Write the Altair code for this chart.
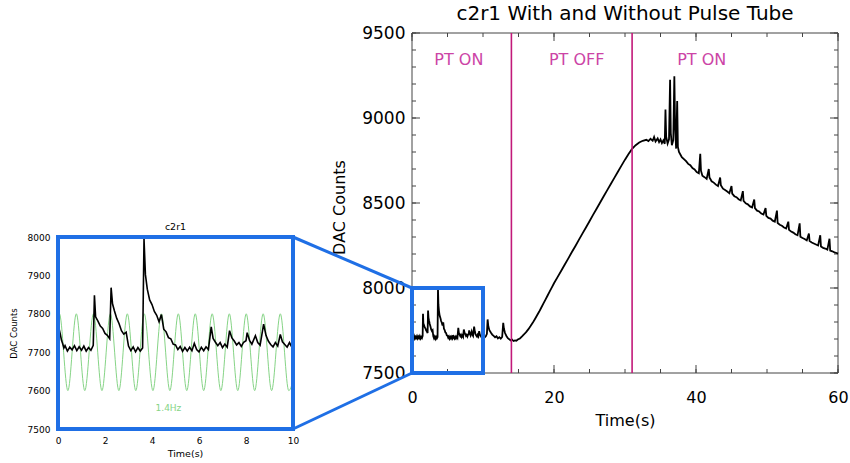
import altair as alt
import pandas as pd

# ---------------- data ----------------
# c2r1 trace, first 10 s (shown in the inset and in the main panel)
inset_t = [0.00, 0.05, 0.10, 0.15, 0.20, 0.25, 0.30, 0.40, 0.50, 0.60,
           0.70, 0.80, 0.90, 1.00, 1.10, 1.20, 1.30, 1.40, 1.50, 1.55,
           1.60, 1.70, 1.80, 1.90, 2.00, 2.10, 2.20, 2.26, 2.32, 2.40,
           2.50, 2.60, 2.70, 2.80, 2.90, 3.00, 3.10, 3.20, 3.30, 3.40,
           3.50, 3.60, 3.66, 3.72, 3.80, 3.90, 4.00, 4.10, 4.20, 4.30,
           4.40, 4.50, 4.60, 4.70, 4.80, 4.90, 5.00, 5.10, 5.20, 5.30,
           5.40, 5.50, 5.60, 5.70, 5.80, 5.90, 6.00, 6.10, 6.20, 6.30,
           6.40, 6.52, 6.60, 6.70, 6.80, 6.90, 7.00, 7.10, 7.20, 7.30,
           7.40, 7.50, 7.60, 7.70, 7.80, 7.90, 8.00, 8.05, 8.15, 8.25,
           8.40, 8.50, 8.60, 8.75, 8.85, 8.95, 9.05, 9.15, 9.25, 9.35,
           9.46, 9.55, 9.65, 9.75, 9.85, 9.95, 10.00]
inset_v = [7778, 7760, 7746, 7731, 7722, 7711, 7717, 7703, 7713, 7706,
           7717, 7704, 7714, 7705, 7716, 7703, 7712, 7705, 7718, 7848,
           7792, 7781, 7768, 7762, 7749, 7744, 7735, 7868, 7826, 7808,
           7788, 7774, 7756, 7747, 7752, 7716, 7704, 7714, 7701, 7712,
           7703, 7711, 7995, 7902, 7864, 7836, 7824, 7806, 7796, 7779,
           7798, 7760, 7753, 7738, 7735, 7721, 7719, 7707, 7715, 7702,
           7712, 7703, 7713, 7704, 7723, 7707, 7701, 7713, 7704, 7714,
           7707, 7766, 7736, 7726, 7717, 7725, 7712, 7721, 7713, 7756,
           7737, 7729, 7719, 7725, 7715, 7726, 7730, 7751, 7731, 7721,
           7743, 7725, 7718, 7773, 7744, 7729, 7720, 7714, 7725, 7716,
           7746, 7727, 7720, 7713, 7725, 7713, 7718]

# c2r1 trace after 10 s (main panel only)
tail_t = [10.2, 10.4, 10.55, 10.65, 10.75, 10.9, 11.1, 11.3, 11.5, 11.7,
          11.9, 12.1, 12.3, 12.5, 12.7, 12.85, 12.95, 13.1, 13.3, 13.5,
          13.7, 13.9, 14.1, 14.3, 14.5, 14.7, 14.9, 15.2, 15.5, 15.8,
          16.1, 16.4, 16.7, 17.0, 17.3, 17.6, 17.9, 18.2, 18.5, 18.8,
          19.1, 19.4, 19.7, 20.0, 20.5, 21.0, 21.5, 22.0, 22.5, 23.0,
          23.5, 24.0, 24.5, 25.0, 25.5, 26.0, 26.5, 27.0, 27.5, 28.0,
          28.5, 29.0, 29.5, 30.0, 30.5, 31.0, 31.5, 32.0, 32.5, 33.0,
          33.3, 33.6, 33.9, 34.1, 34.3, 34.6, 34.8, 35.0, 35.2, 35.4,
          35.6, 35.7, 35.8, 36.0, 36.2, 36.35, 36.45, 36.6, 36.8, 36.95,
          37.05, 37.2, 37.35, 37.45, 37.6, 37.8, 38.0, 38.3, 38.6, 38.9,
          39.2, 39.5, 39.8, 40.1, 40.4, 40.6, 40.7, 40.9, 41.2, 41.5,
          41.8, 41.9, 42.2, 42.5, 42.8, 43.1, 43.4, 43.5, 43.8, 44.1,
          44.4, 44.7, 45.0, 45.1, 45.4, 45.7, 46.0, 46.3, 46.6, 46.7,
          47.0, 47.3, 47.6, 47.9, 48.2, 48.3, 48.6, 48.9, 49.2, 49.5,
          49.8, 49.9, 50.2, 50.5, 50.8, 51.1, 51.4, 51.5, 51.8, 52.1,
          52.4, 52.7, 53.0, 53.1, 53.4, 53.7, 54.0, 54.3, 54.6, 54.7,
          55.0, 55.3, 55.6, 55.9, 56.0, 56.3, 56.6, 56.9, 57.2, 57.5,
          57.6, 57.9, 58.2, 58.5, 58.8, 58.9, 59.2, 59.5, 59.8, 60.0]
tail_v = [7708, 7716, 7730, 7815, 7775, 7752, 7738, 7726, 7718, 7710,
          7716, 7704, 7711, 7702, 7712, 7795, 7760, 7735, 7718, 7705,
          7698, 7692, 7696, 7688, 7692, 7690, 7697, 7703, 7715, 7728,
          7742, 7758, 7776, 7795, 7816, 7838, 7860, 7884, 7908, 7932,
          7956, 7980, 8004, 8028, 8064, 8100, 8137, 8173, 8210, 8246,
          8283, 8320, 8356, 8393, 8430, 8466, 8503, 8540, 8576, 8612,
          8648, 8684, 8720, 8755, 8788, 8818, 8840, 8856, 8866, 8872,
          8864, 8878, 8866, 8888, 8862, 8880, 8858, 8874, 8852, 8868,
          8848, 9050, 8890, 8850, 8875, 9225, 8910, 8840, 8870, 9245,
          8960, 8820, 9100, 8830, 8800, 8785, 8770, 8758, 8746, 8730,
          8722, 8705, 8698, 8682, 8675, 8790, 8690, 8660, 8652, 8642,
          8700, 8650, 8628, 8620, 8608, 8600, 8650, 8605, 8584, 8576,
          8568, 8558, 8600, 8555, 8540, 8534, 8522, 8515, 8570, 8512,
          8498, 8492, 8480, 8474, 8520, 8470, 8455, 8450, 8438, 8432,
          8470, 8425, 8412, 8408, 8396, 8390, 8455, 8382, 8372, 8366,
          8356, 8350, 8390, 8342, 8332, 8326, 8316, 8310, 8380, 8302,
          8294, 8288, 8280, 8320, 8276, 8268, 8262, 8256, 8250, 8310,
          8244, 8236, 8232, 8226, 8290, 8220, 8216, 8210, 8206, 8202]

# 1.4 Hz pulse-tube reference (green), extrema
wave_t = [0.00, 0.06, 0.42, 0.78, 1.14, 1.51, 1.87, 2.23, 2.59, 2.95,
          3.31, 3.67, 4.04, 4.40, 4.76, 5.12, 5.48, 5.84, 6.20, 6.56,
          6.93, 7.29, 7.65, 8.01, 8.37, 8.73, 9.09, 9.46, 9.82, 10.00]
wave_v = [7795, 7800, 7600, 7800, 7600, 7800, 7600, 7800, 7600, 7800,
          7600, 7800, 7600, 7800, 7600, 7800, 7600, 7800, 7600, 7800,
          7600, 7800, 7600, 7800, 7600, 7800, 7600, 7800, 7600, 7625]

pt_switch_t = [14, 31]
pt_label_text = ["PT ON", "PT OFF", "PT ON"]

main_x_domain = [0, 60]
main_y_domain = [7500, 9500]
inset_x_domain = [0, 10]
inset_y_domain = [7500, 8000]

main_x_labels = [0, 20, 40, 60]
main_x_minor = [0, 5, 10, 15, 20, 25, 30, 35, 40, 45, 50, 55, 60]
main_y_labels = [7500, 8000, 8500, 9000, 9500]
main_y_minor = [7500, 7600, 7700, 7800, 7900, 8000, 8100, 8200, 8300, 8400,
                8500, 8600, 8700, 8800, 8900, 9000, 9100, 9200, 9300, 9400, 9500]
inset_x_labels = [0, 2, 4, 6, 8, 10]
inset_y_labels = [7500, 7600, 7700, 7800, 7900, 8000]

main_title = "c2r1 With and Without Pulse Tube"
inset_title = "c2r1"
wave_label = "1.4Hz"

# ---------------- layout / style ----------------
W, H = 850, 463
MX0, MX1, MY0, MY1 = 412, 838, 33, 373      # main plot area (pixels)
IX0, IX1, IY0, IY1 = 58, 293, 237, 429      # inset plot area (pixels)
PT_LABEL_T = [6.6, 23.2, 40.8]
PT_LABEL_Y = 60
WAVE_LABEL_POS = (4.7, 7555)
FONT = "DejaVu Sans"
BLUE = "#1f6fe5"
MAGENTA_LINE = "#c2197a"
MAGENTA_TEXT = "#cc44a6"
GREEN = "#86d486"
FRAME = "#444444"


def mx():
    return alt.Scale(domain=main_x_domain, range=[MX0, MX1], nice=False, zero=False)


def my():
    return alt.Scale(domain=main_y_domain, range=[MY1, MY0], nice=False, zero=False)


def ix():
    return alt.Scale(domain=inset_x_domain, range=[IX0, IX1], nice=False, zero=False)


def iy():
    return alt.Scale(domain=inset_y_domain, range=[IY1, IY0], nice=False, zero=False)


main_df = pd.DataFrame({"t": inset_t + tail_t, "v": inset_v + tail_v})
inset_df = pd.DataFrame({"t": inset_t, "v": inset_v})
wave_df = pd.DataFrame({"t": wave_t, "v": wave_v})

layers = []

# main frame
frame_df = pd.DataFrame({"x": [main_x_domain[0]], "x2": [main_x_domain[1]],
                         "y": [main_y_domain[0]], "y2": [main_y_domain[1]]})
layers.append(alt.Chart(frame_df).mark_rect(fillOpacity=0, stroke=FRAME, strokeWidth=1).encode(
    x=alt.X("x:Q", scale=mx(), axis=None), x2="x2:Q",
    y=alt.Y("y:Q", scale=my(), axis=None), y2="y2:Q"))

# inward ticks (IDL style)
for vals, ln in [(main_x_minor, 4), (main_x_labels, 8)]:
    d = pd.DataFrame({"v": vals})
    for ya, yb in [(MY1, MY1 - ln), (MY0, MY0 + ln)]:
        layers.append(alt.Chart(d).mark_rule(color=FRAME, strokeWidth=1).encode(
            x=alt.X("v:Q", scale=mx(), axis=None), y=alt.value(ya), y2=alt.value(yb)))
for vals, ln in [(main_y_minor, 4), (main_y_labels, 8)]:
    d = pd.DataFrame({"v": vals})
    for xa, xb in [(MX0, MX0 + ln), (MX1, MX1 - ln)]:
        layers.append(alt.Chart(d).mark_rule(color=FRAME, strokeWidth=1).encode(
            y=alt.Y("v:Q", scale=my(), axis=None), x=alt.value(xa), x2=alt.value(xb)))

# main trace with axes (labels only)
layers.append(alt.Chart(main_df).mark_line(color="black", strokeWidth=1.8).encode(
    x=alt.X("t:Q", scale=mx(), axis=alt.Axis(
        orient="bottom", offset=MY1 - H, values=main_x_labels, format="d",
        ticks=False, tickSize=0, domain=False, grid=False,
        labelFont=FONT, labelFontSize=16, labelColor="black", labelPadding=16,
        labelFlush=False, labelOverlap=False,
        title="Time(s)", titleFont=FONT, titleFontSize=16, titleFontWeight="normal",
        titleColor="black", titleX=(MX0 + MX1) / 2, titleY=47, titleBaseline="middle",
        titleAlign="center")),
    y=alt.Y("v:Q", scale=my(), axis=alt.Axis(
        orient="left", offset=-MX0, values=main_y_labels, format="d",
        ticks=False, tickSize=0, domain=False, grid=False,
        labelFont=FONT, labelFontSize=17, labelColor="black", labelPadding=7,
        labelFlush=False, labelOverlap=False,
        title="DAC Counts", titleFont=FONT, titleFontSize=16, titleFontWeight="normal",
        titleColor="black", titleX=-73, titleY=207, titleAngle=270,
        titleBaseline="middle", titleAlign="center")),
    order="t:Q"))

# pulse tube switching lines
sw_df = pd.DataFrame({"t": pt_switch_t, "lo": [main_y_domain[0]] * 2, "hi": [main_y_domain[1]] * 2})
layers.append(alt.Chart(sw_df).mark_rule(color=MAGENTA_LINE, strokeWidth=1.6).encode(
    x=alt.X("t:Q", scale=mx(), axis=None),
    y=alt.Y("lo:Q", scale=my(), axis=None), y2="hi:Q"))

lab_df = pd.DataFrame({"t": PT_LABEL_T, "label": pt_label_text})
layers.append(alt.Chart(lab_df).mark_text(
    color=MAGENTA_TEXT, font=FONT, fontSize=16, align="center", baseline="middle").encode(
    x=alt.X("t:Q", scale=mx(), axis=None), y=alt.value(PT_LABEL_Y), text="label:N"))

# zoom box on main panel
box_df = pd.DataFrame({"x": [inset_x_domain[0]], "x2": [inset_x_domain[1]],
                       "y": [inset_y_domain[0]], "y2": [inset_y_domain[1]]})
layers.append(alt.Chart(box_df).mark_rect(fillOpacity=0, stroke=BLUE, strokeWidth=4).encode(
    x=alt.X("x:Q", scale=mx(), axis=None), x2="x2:Q",
    y=alt.Y("y:Q", scale=my(), axis=None), y2="y2:Q"))

# connectors between inset and zoom box
box_top_px = MY1 - (inset_y_domain[1] - main_y_domain[0]) / (main_y_domain[1] - main_y_domain[0]) * (MY1 - MY0)
conn_df = pd.DataFrame({"k": [0]})
layers.append(alt.Chart(conn_df).mark_rule(color=BLUE, strokeWidth=3).encode(
    x=alt.value(IX1), y=alt.value(IY0), x2=alt.value(MX0), y2=alt.value(box_top_px)))
layers.append(alt.Chart(conn_df).mark_rule(color=BLUE, strokeWidth=3).encode(
    x=alt.value(IX1), y=alt.value(IY1), x2=alt.value(MX0), y2=alt.value(MY1)))

# inset: green reference
layers.append(alt.Chart(wave_df).mark_line(color=GREEN, strokeWidth=1, interpolate="monotone").encode(
    x=alt.X("t:Q", scale=ix(), axis=None), y=alt.Y("v:Q", scale=iy(), axis=None), order="t:Q"))

# inset: black trace with axes
layers.append(alt.Chart(inset_df).mark_line(color="black", strokeWidth=1.6).encode(
    x=alt.X("t:Q", scale=ix(), axis=alt.Axis(
        orient="bottom", offset=IY1 - H, values=inset_x_labels, format="d",
        ticks=False, tickSize=0, domain=False, grid=False,
        labelFont=FONT, labelFontSize=9, labelColor="black", labelPadding=7,
        labelFlush=False, labelOverlap=False,
        title="Time(s)", titleFont=FONT, titleFontSize=9.5, titleFontWeight="normal",
        titleColor="black", titleX=185, titleY=24, titleBaseline="middle", titleAlign="center")),
    y=alt.Y("v:Q", scale=iy(), axis=alt.Axis(
        orient="left", offset=-IX0, values=inset_y_labels, format="d",
        ticks=False, tickSize=0, domain=False, grid=False,
        labelFont=FONT, labelFontSize=9, labelColor="black", labelPadding=8,
        labelFlush=False, labelOverlap=False,
        title="DAC Counts", titleFont=FONT, titleFontSize=8.5, titleFontWeight="normal",
        titleColor="black", titleX=-45, titleY=333, titleAngle=270,
        titleBaseline="middle", titleAlign="center")),
    order="t:Q"))

# inset frame
layers.append(alt.Chart(box_df).mark_rect(fillOpacity=0, stroke=BLUE, strokeWidth=4).encode(
    x=alt.X("x:Q", scale=ix(), axis=None), x2="x2:Q",
    y=alt.Y("y:Q", scale=iy(), axis=None), y2="y2:Q"))

# inset wave label
wl_df = pd.DataFrame({"t": [WAVE_LABEL_POS[0]], "v": [WAVE_LABEL_POS[1]], "label": [wave_label]})
layers.append(alt.Chart(wl_df).mark_text(color=GREEN, font=FONT, fontSize=9, align="center",
                                          baseline="middle").encode(
    x=alt.X("t:Q", scale=ix(), axis=None), y=alt.Y("v:Q", scale=iy(), axis=None), text="label:N"))

# titles
t_df = pd.DataFrame({"label": [main_title]})
layers.append(alt.Chart(t_df).mark_text(font=FONT, fontSize=20, color="black", align="center",
                                         baseline="middle").encode(
    x=alt.value((MX0 + MX1) / 2), y=alt.value(14), text="label:N"))
it_df = pd.DataFrame({"label": [inset_title]})
layers.append(alt.Chart(it_df).mark_text(font=FONT, fontSize=9.5, color="black", align="center",
                                          baseline="middle").encode(
    x=alt.value((IX0 + IX1) / 2), y=alt.value(IY0 - 10), text="label:N"))

chart = alt.layer(*layers).resolve_scale(x="independent", y="independent").properties(
    width=W, height=H, autosize=alt.AutoSizeParams(type="none"), padding=0, background="white"
).configure_view(strokeWidth=0)

chart.save("out.html", embed_options={"renderer": "svg", "actions": False})
